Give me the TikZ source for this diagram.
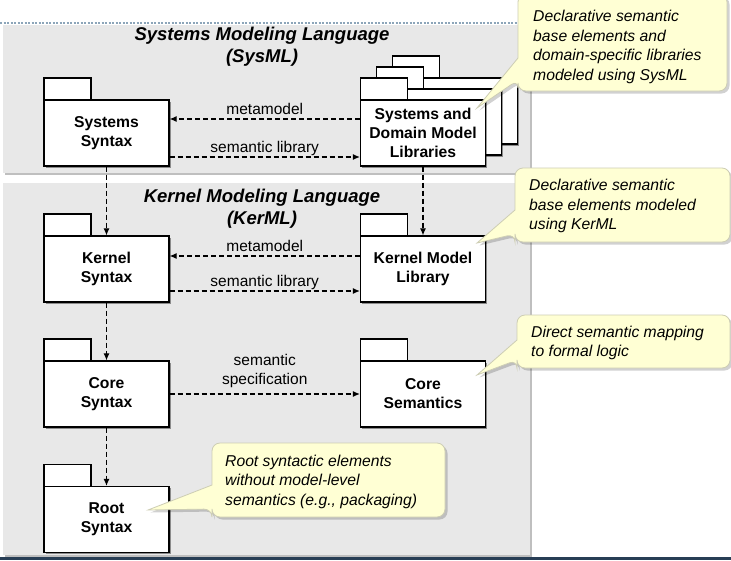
\documentclass[tikz,border=0pt]{standalone}
\usepackage{fontspec}
\setmainfont{Liberation Sans}
\usetikzlibrary{arrows.meta,shadows}
\definecolor{panelgray}{RGB}{232,232,232}
\definecolor{calloutfill}{RGB}{255,255,212}
\definecolor{calloutdraw}{RGB}{205,205,180}
\definecolor{dotline}{RGB}{140,165,185}
\definecolor{bottomline}{RGB}{40,62,85}
\newcommand\umlpkg[4]{%
  \draw[pkgtab] ({#2-62.5},{#3-33}) rectangle ++(47,-22);
  \node[pkgbody] (#1) at (#2,#3) {#4};
}
% x1, ytop, x2, ybottom, tipx, tipy, base top y, base bottom y
\newcommand\mycallout[8]{%
  \draw[callout] ({(#1+#3)/2},#2) [rounded corners=8pt] -- (#3,#2) -- (#3,#4) -- (#1,#4) -- (#1,#8)
    [sharp corners] -- (#5,#6) -- (#1,#7) -- (#1,{#7-5}) [rounded corners=8pt] -- (#1,#2) -- cycle;
}
\begin{document}
\begin{tikzpicture}[x=1pt,y=-1pt,
  pkgbody/.style={draw=black,line width=1.2pt,fill=white,minimum width=125pt,minimum height=66pt,inner sep=0pt,align=center,font=\fontsize{15.7}{19}\selectfont\bfseries,drop shadow={shadow xshift=1.5pt,shadow yshift=-1.5pt,opacity=.4,fill=black}},
  pkgtab/.style={draw=black,line width=1.2pt,fill=white},
  dep/.style={line width=1.1pt,dash pattern=on 5pt off 3pt,-{Latex[length=7pt,width=6pt]}},
  lbl/.style={font=\fontsize{15.5}{19}\selectfont,inner sep=0pt,align=center},
  ttl/.style={font=\fontsize{18.5}{22}\selectfont\bfseries\itshape,align=center,inner sep=0pt},
  panel/.style={fill=panelgray,drop shadow={shadow xshift=2pt,shadow yshift=-2pt,opacity=.25,fill=black}},
  callout/.style={draw=calloutdraw,line width=0.8pt,fill=calloutfill,drop shadow={shadow xshift=2.5pt,shadow yshift=-2.5pt,opacity=.18,fill=black}},
  ctext/.style={font=\fontsize{15.7}{19.5}\selectfont\itshape,align=left,inner sep=0pt,anchor=west}]
\useasboundingbox (0,0) rectangle (731,560);
\fill[white] (0,0) rectangle (731,560);
% top dotted rule
\draw[dotline,line width=1.2pt,dash pattern=on 2pt off 1.5pt] (0,23) -- (520,23);
% panels
\path[panel] (3,25) rectangle (530,173);
\path[panel] (3,183) rectangle (530,555);
% titles
\node[ttl] (t1) at (262,46.5) {Systems Modeling Language\\(SysML)};
\node[ttl] (t2) at (262,208.5) {Kernel Modeling Language\\(KerML)};
% packages
\umlpkg{ss}{106.5}{133}{Systems\\Syntax}
\umlpkg{lib3}{455}{111}{}
\umlpkg{lib2}{439}{122}{}
\umlpkg{sl}{423}{133}{Systems and\\Domain Model\\Libraries}
\umlpkg{ks}{106.5}{269}{Kernel\\Syntax}
\umlpkg{kl}{423}{269}{Kernel Model\\Library}
\umlpkg{cs}{106.5}{394}{Core\\Syntax}
\umlpkg{csem}{423}{394}{Core\\Semantics}
\umlpkg{rs}{106.5}{519.5}{Root\\Syntax}
% dependencies
\draw[dep] (sl.west |- 0,119) -- (ss.east |- 0,119) node[lbl,midway,anchor=base,yshift=5pt] {metamodel};
\draw[dep] (ss.east |- 0,157) -- (sl.west |- 0,157) node[lbl,midway,anchor=base,yshift=5pt] {semantic library};
\draw[dep] (kl.west |- 0,256) -- (ks.east |- 0,256) node[lbl,midway,anchor=base,yshift=4.5pt] {metamodel};
\draw[dep] (ks.east |- 0,291) -- (kl.west |- 0,291) node[lbl,midway,anchor=base,yshift=4.5pt] {semantic library};
\draw[dep] (cs.east) -- (csem.west) node[lbl,midway,anchor=south,yshift=6pt] {semantic\\specification};
\draw[dep] (ss.south) -- (ks.north);
\draw[dep] (sl.south) -- (kl.north);
\draw[dep] (ks.south) -- (cs.north);
\draw[dep] (cs.south) -- (rs.north);
% callouts
\mycallout{518}{-6}{727}{91}{477}{108}{58}{80}
\node[ctext] (c1) at (533,47) {Declarative semantic\\base elements and\\domain-specific libraries\\modeled using SysML};
\mycallout{515}{168}{730}{242}{477}{243}{210}{234}
\node[ctext] (c2) at (529,206) {Declarative semantic\\base elements modeled\\using KerML};
\mycallout{517}{315}{730}{368}{477}{375}{340}{360}
\node[ctext] (c3) at (531,343) {Direct semantic mapping\\to formal logic};
\mycallout{212}{443}{445}{517}{148}{510}{485}{509}
\node[ctext] (c4) at (225,481.5) {Root syntactic elements\\without model-level\\semantics (e.g., packaging)};
% bottom rule
\draw[bottomline,line width=3pt] (0,558.5) -- (731,558.5);
\end{tikzpicture}
\end{document}
